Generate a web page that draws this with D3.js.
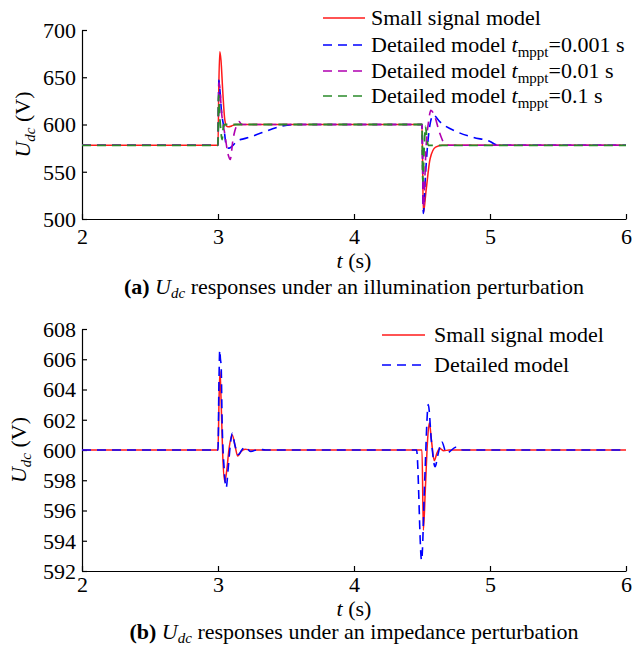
<!DOCTYPE html>
<html>
<head>
<meta charset="utf-8">
<script src="https://cdn.jsdelivr.net/npm/d3@7"></script>
<style>
  html, body { margin: 0; padding: 0; background: #fff; }
  svg { display: block; }
</style>
</head>
<body>
<svg id="fig" width="641" height="646"></svg>
<script>
// ---- axis ticks ----
const timeTicks = [2, 3, 4, 5, 6];
const udcTicksA = [500, 550, 600, 650, 700];
const udcTicksB = [592, 594, 596, 598, 600, 602, 604, 606, 608];

// ---- (a) illumination perturbation ----
const tSmallA = [2, 3.0, 3.006, 3.013, 3.022, 3.035, 3.05, 3.065, 3.08, 3.1, 3.13, 4.5, 4.51, 4.53, 4.56, 4.6, 4.65, 6];
const uSmallA = [578, 578, 640, 677, 668, 635, 605, 598, 597.5, 598.5, 600, 600, 506, 530, 564, 576, 578, 578];

const tBlueA = [2, 3.0, 3.006, 3.012, 3.025, 3.045, 3.06, 3.075, 3.09, 3.11, 3.15, 3.18, 3.56, 4.5, 4.51, 4.525, 4.54, 4.56, 4.583, 4.63, 4.755, 4.877, 5.0, 5.05, 5.1, 6];
const uBlueA = [578, 578, 647, 640, 615, 595, 578, 575, 575.5, 578, 583.5, 584.5, 600, 600, 506, 545, 576.5, 601, 610, 603, 592.4, 586.4, 582, 578.5, 578, 578];

const tMagA = [2, 3.0, 3.007, 3.013, 3.025, 3.05, 3.075, 3.09, 3.11, 3.14, 3.155, 3.175, 4.5, 4.51, 4.53, 4.55, 4.565, 4.59, 4.63, 4.655, 4.68, 4.7, 6];
const uMagA = [578, 578, 644, 640, 615, 590, 568, 563, 584, 600, 603, 600, 600, 512, 576, 605, 615, 610, 591, 582, 579, 578, 578];

const tGreenA = [2, 3.0, 3.004, 3.012, 3.02, 3.03, 3.04, 3.05, 4.5, 4.506, 4.516, 4.526, 4.536, 4.546, 6];
const uGreenA = [578, 578, 631, 610, 595, 584, 598, 600, 600, 540, 575, 598, 585, 578, 578];

// ---- (b) impedance perturbation ----
const tSmallB = [2, 3.0, 3.008, 3.015, 3.022, 3.035, 3.05, 3.065, 3.08, 3.105, 3.125, 3.145, 3.17, 3.2, 3.24, 4.5, 4.51, 4.525, 4.54, 4.554, 4.57, 4.59, 4.61, 4.63, 4.66, 4.7, 6];
const uSmallB = [600, 600, 603.5, 605.2, 603.5, 599.6, 597.9, 598.7, 600, 601.0, 600.3, 599.6, 599.9, 600.05, 600, 600, 594.7, 597.5, 600.5, 601.8, 600.6, 599.3, 599.8, 600.1, 599.95, 600, 600];

const tBlueB = [2, 3.0, 3.007, 3.013, 3.018, 3.023, 3.03, 3.045, 3.06, 3.075, 3.09, 3.105, 3.125, 3.15, 3.175, 3.2, 3.24, 3.3, 3.35, 4.46, 4.497, 4.52, 4.546, 4.57, 4.596, 4.62, 4.645, 4.68, 4.755, 4.8, 6];
const uBlueB = [600, 600, 604.5, 606.6, 606.0, 605.6, 602, 598.8, 597.5, 598.8, 600.3, 601.1, 600.3, 599.7, 600, 600.2, 599.9, 600.05, 600, 600, 592.7, 598, 603.0, 600.5, 598.9, 599.8, 600.55, 599.8, 600.2, 600, 600];

// ---- legend entries ----
const legendA = [
  { sub: null, pre: "Small signal model", post: "" },
  { sub: "mppt", pre: "Detailed model ", post: "=0.001 s" },
  { sub: "mppt", pre: "Detailed model ", post: "=0.01 s" },
  { sub: "mppt", pre: "Detailed model ", post: "=0.1 s" }
];
const legendB = ["Small signal model", "Detailed model"];

// ---- styles ----
const FONT = '"Liberation Serif", "Times New Roman", serif';
const RED = "#ff1a1a", BLUE = "#0000ff", MAG = "#b000b0", GREEN = "#2a8a2a";
const DASH = "9,6";

const svg = d3.select("#fig");
const zip = (ts, us) => ts.map((t, i) => [t, us[i]]);

function rich(sel, parts, subShift = 5) {
  // parts: [text, {italic, bold, sub}]
  let shifted = false;
  parts.forEach(([txt, o = {}]) => {
    const ts = sel.append("tspan").text(txt);
    if (o.italic) ts.style("font-style", "italic");
    if (o.bold) ts.style("font-weight", "bold");
    if (o.sub && !shifted) { ts.attr("dy", subShift).style("font-size", "15px"); shifted = true; }
    else if (o.sub) { ts.style("font-size", "15px"); }
    else if (!o.sub && shifted) { ts.attr("dy", -subShift); shifted = false; }
  });
}

function styleText(sel) {
  return sel.style("font-family", FONT).style("font-size", "22px").attr("fill", "#000");
}

function panel(cfg) {
  const x = d3.scaleLinear().domain([2, 6]).range([cfg.x0, cfg.x1]);
  const y = d3.scaleLinear().domain(cfg.ydom).range([cfg.y1, cfg.y0]);
  const g = svg.append("g");

  // axes: left and bottom only, ticks pointing inward
  const ax = g.append("g").attr("transform", `translate(0,${cfg.y1})`)
    .call(d3.axisBottom(x).tickValues(timeTicks).tickSizeInner(-5).tickSizeOuter(0).tickPadding(cfg.xPad).tickFormat(d3.format("d")));
  const ay = g.append("g").attr("transform", `translate(${cfg.x0},0)`)
    .call(d3.axisLeft(y).tickValues(cfg.yticks).tickSizeInner(-5).tickSizeOuter(0).tickPadding(6).tickFormat(d3.format("d")));
  [ax, ay].forEach(a => {
    a.attr("font-family", null).attr("font-size", null);
    a.select(".domain").attr("stroke", "#000").attr("stroke-width", 1.2);
    a.selectAll(".tick line").attr("stroke", "#000").attr("stroke-width", 1.2);
    styleText(a.selectAll("text"));
  });
  ax.selectAll("text").attr("dy", "0.71em");
  ay.selectAll("text").attr("dy", "0.34em");

  const line = d3.line().x(d => x(d[0])).y(d => y(d[1])).curve(d3.curveMonotoneX);
  cfg.series.forEach(s => {
    g.append("path").attr("d", line(zip(s.t, s.u)))
      .attr("fill", "none").attr("stroke", s.color).attr("stroke-width", s.w || 1.5)
      .attr("stroke-dasharray", s.dash ? DASH : null).attr("stroke-linejoin", "round");
  });

  // axis titles
  const yl = styleText(g.append("text")).attr("text-anchor", "middle")
    .attr("transform", `translate(${cfg.ylx},${(cfg.y0 + cfg.y1) / 2}) rotate(-90)`);
  rich(yl, [["U", { italic: true }], ["dc", { italic: true, sub: true }], [" (V)"]]);

  const xl = styleText(g.append("text")).attr("text-anchor", "middle")
    .attr("x", (cfg.x0 + cfg.x1) / 2).attr("y", cfg.xly);
  rich(xl, [["t", { italic: true }], [" (s)"]]);

  const cap = styleText(g.append("text")).attr("text-anchor", "middle")
    .attr("x", (cfg.x0 + cfg.x1) / 2).attr("y", cfg.capy);
  rich(cap, [[cfg.tag, { bold: true }], [" "], ["U", { italic: true }], ["dc", { italic: true, sub: true }], [cfg.caption]], 4);
  return g;
}

// ---------- panel (a) ----------
panel({
  x0: 82, x1: 626, y0: 30, y1: 219, ydom: [500, 700], yticks: udcTicksA,
  xPad: 9, ylx: 30, xly: 268, capy: 294,
  tag: "(a)", caption: " responses under an illumination perturbation",
  series: [
    { t: tSmallA, u: uSmallA, color: RED, w: 1.5 },
    { t: tBlueA, u: uBlueA, color: BLUE, dash: true, w: 1.6 },
    { t: tMagA, u: uMagA, color: MAG, dash: true, w: 1.6 },
    { t: tGreenA, u: uGreenA, color: GREEN, dash: true, w: 1.8 }
  ]
});
const colorsA = [RED, BLUE, MAG, GREEN];
const rowsA = [18, 45, 71, 96];
legendA.forEach((d, i) => {
  svg.append("line").attr("x1", 323).attr("x2", 365).attr("y1", rowsA[i]).attr("y2", rowsA[i])
    .attr("stroke", colorsA[i]).attr("stroke-width", 1.6).attr("stroke-dasharray", i ? DASH : null);
  const tx = styleText(svg.append("text")).attr("x", 371).attr("y", rowsA[i] + 7);
  if (d.sub) rich(tx, [[d.pre], ["t", { italic: true }], [d.sub, { sub: true }], [d.post]]);
  else rich(tx, [[d.pre]]);
});

// ---------- panel (b) ----------
panel({
  x0: 82, x1: 626, y0: 329, y1: 571, ydom: [592, 608], yticks: udcTicksB,
  xPad: 5, ylx: 26, xly: 616, capy: 639,
  tag: "(b)", caption: " responses under an impedance perturbation",
  series: [
    { t: tSmallB, u: uSmallB, color: RED, w: 1.5 },
    { t: tBlueB, u: uBlueB, color: BLUE, dash: true, w: 1.6 }
  ]
});
const colorsB = [RED, BLUE];
const rowsB = [335, 365];
legendB.forEach((d, i) => {
  svg.append("line").attr("x1", 382).attr("x2", 425).attr("y1", rowsB[i]).attr("y2", rowsB[i])
    .attr("stroke", colorsB[i]).attr("stroke-width", 1.6).attr("stroke-dasharray", i ? DASH : null);
  styleText(svg.append("text")).attr("x", 434).attr("y", rowsB[i] + 7).text(d);
});
</script>
</body>
</html>
